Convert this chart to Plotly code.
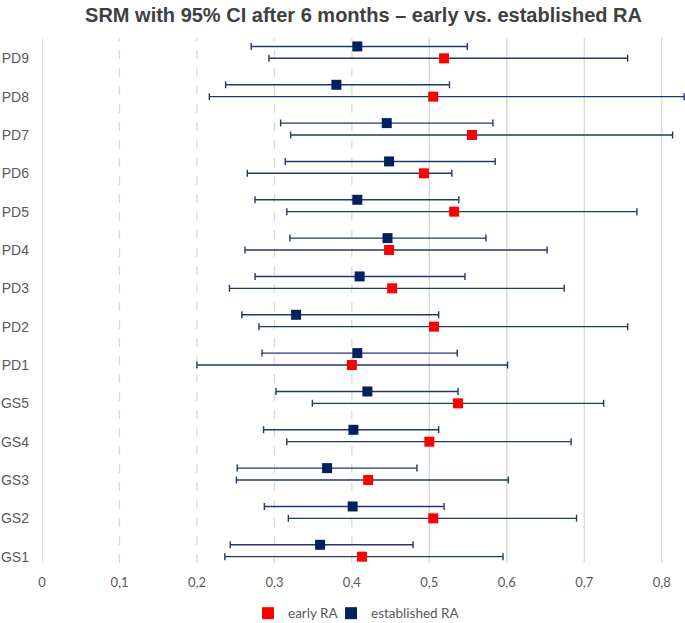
import plotly.graph_objects as go

categories = ["GS1", "GS2", "GS3", "GS4", "GS5", "PD1", "PD2", "PD3", "PD4", "PD5", "PD6", "PD7", "PD8", "PD9"]

early_srm = [0.413, 0.505, 0.421, 0.500, 0.537, 0.400, 0.506, 0.452, 0.448, 0.532, 0.493, 0.555, 0.505, 0.519]
early_lo  = [0.236, 0.318, 0.251, 0.316, 0.349, 0.200, 0.280, 0.242, 0.262, 0.316, 0.265, 0.321, 0.216, 0.293]
early_hi  = [0.595, 0.690, 0.602, 0.683, 0.725, 0.601, 0.756, 0.674, 0.652, 0.768, 0.529, 0.814, 0.829, 0.756]

est_srm = [0.359, 0.401, 0.368, 0.402, 0.420, 0.407, 0.328, 0.410, 0.446, 0.407, 0.448, 0.445, 0.380, 0.407]
est_lo  = [0.243, 0.287, 0.252, 0.286, 0.302, 0.284, 0.258, 0.275, 0.320, 0.275, 0.314, 0.308, 0.237, 0.270]
est_hi  = [0.479, 0.519, 0.484, 0.512, 0.537, 0.536, 0.512, 0.546, 0.573, 0.538, 0.585, 0.582, 0.526, 0.549]

x_ticks = [0, 0.1, 0.2, 0.3, 0.4, 0.5, 0.6, 0.7, 0.8]
x_tick_labels = ["0", "0,1", "0,2", "0,3", "0,4", "0,5", "0,6", "0,7", "0,8"]

NAVY = "#002060"
BAR = "#22386b"
RED = "#FF0000"

ypos = list(range(1, len(categories) + 1))
offset = 0.31

fig = go.Figure()

fig.add_trace(go.Scatter(
    x=early_srm, y=ypos, mode="markers", name="early RA", legend="legend",
    marker=dict(symbol="square", size=10, color=RED),
    error_x=dict(type="data", symmetric=False,
                 array=[h - m for h, m in zip(early_hi, early_srm)],
                 arrayminus=[m - l for m, l in zip(early_srm, early_lo)],
                 color=BAR, thickness=1.4, width=3.5),
))
fig.add_trace(go.Scatter(
    x=est_srm, y=[y + offset for y in ypos], mode="markers", name="established RA", legend="legend2",
    marker=dict(symbol="square", size=10, color=NAVY),
    error_x=dict(type="data", symmetric=False,
                 array=[h - m for h, m in zip(est_hi, est_srm)],
                 arrayminus=[m - l for m, l in zip(est_srm, est_lo)],
                 color=BAR, thickness=1.4, width=3.5),
))

shapes = []
for v in x_ticks:
    dashed = v in (0.1, 0.2, 0.3, 0.4)
    shapes.append(dict(type="line", xref="x", yref="paper", x0=v, x1=v, y0=0, y1=1,
                       line=dict(color="#D9D9D9", width=1.3, dash="dash" if dashed else "solid"),
                       layer="below"))

legend_font = dict(family="Lato, Open Sans", size=13.5, color="#595959")

fig.update_layout(
    width=685, height=623,
    margin=dict(l=42, r=0, t=38, b=60, autoexpand=False),
    paper_bgcolor="white", plot_bgcolor="white",
    title=dict(text="<b>SRM with 95% CI after 6 months – early vs. established RA</b>",
               x=0.5, xref="paper", xanchor="center", y=0.976, yanchor="middle",
               font=dict(family="Liberation Sans, Arial", size=20, color="#404040")),
    xaxis=dict(range=[0, 0.83], tickvals=x_ticks, ticktext=x_tick_labels,
               showgrid=False, zeroline=False, showline=False, automargin=False,
               tickfont=dict(family="Lato, Open Sans", size=13, color="#595959"),
               ticklabelstandoff=10),
    yaxis=dict(range=[0.835, 14.53], tickvals=ypos, ticktext=categories,
               showgrid=False, zeroline=False, showline=False, automargin=False,
               tickfont=dict(family="Liberation Sans, Arial", size=14, color="#595959"),
               ticklabelstandoff=12),
    shapes=shapes,
    showlegend=True,
    legend=dict(orientation="h", x=0.3204, xanchor="left", y=-0.096, yanchor="middle",
                font=legend_font, itemsizing="constant", bgcolor="rgba(0,0,0,0)"),
    legend2=dict(orientation="h", x=0.4495, xanchor="left", y=-0.096, yanchor="middle",
                 font=legend_font, itemsizing="constant", bgcolor="rgba(0,0,0,0)"),
)

fig.write_html("out.html", config={"displayModeBar": False})
with open("out.html", "r", encoding="utf-8") as f:
    html = f.read()
html = html.replace("<body>", '<body style="margin:0;padding:0;">', 1)
with open("out.html", "w", encoding="utf-8") as f:
    f.write(html)
